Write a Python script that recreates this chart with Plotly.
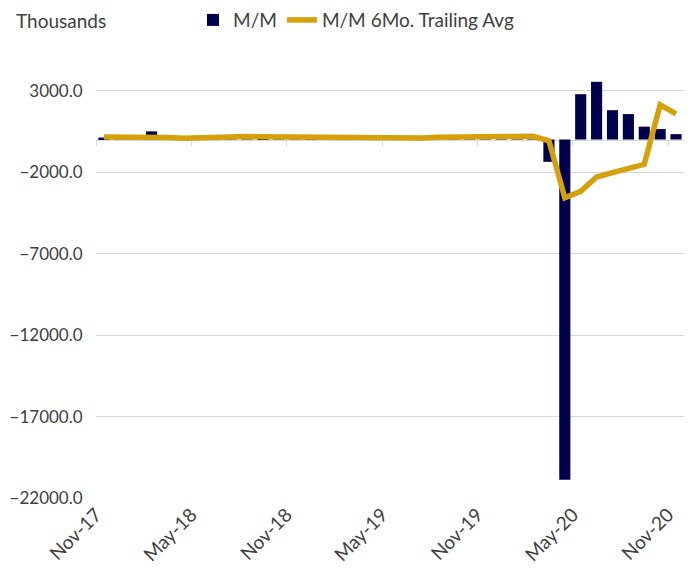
import pandas as pd
import plotly.graph_objects as go

# monthly change, thousands (Nov-17 .. Nov-20)
months = [d.strftime('%b-%y') for d in pd.date_range('2017-11-01', '2020-11-01', freq='MS')]

mm = [120, 150, 180, 500, 140, 60, 110, 200, 210, 150, 100, 160,
      150, 120, 180, 100, 170, 60, 150, 120, 90, 140, 160, 170,
      180, 160, 200, 230, -1370, -20870, 2780, 3540, 1800, 1560,
      790, 640, 330]

trail_avg = [150, 150, 160, 170, 130, 80, 120, 170, 180, 180, 170, 160,
             150, 150, 150, 150, 150, 150, 150, 140, 90, 140, 170, 180,
             180, 180, 190, 200, -80, -3580, -3180, -2300, -2030, -1800,
             -1520, 2120, 1570]

tick_labels = ['Nov-17', 'May-18', 'Nov-18', 'May-19', 'Nov-19', 'May-20', 'Nov-20']
y_ticks = [3000, -2000, -7000, -12000, -17000, -22000]

NAVY = '#00004D'
GOLD = '#D4A10C'
GRID = '#D9D9D9'
TEXT = '#404040'
FONT = 'Lato'

x = list(range(len(months)))
tickvals = [months.index(t) - 0.5 for t in tick_labels]
y_min, y_max = -22050, 5000

fig = go.Figure()
fig.add_trace(go.Bar(x=x, y=mm, name='M/M', marker_color=NAVY,
                     marker_line_width=0, width=0.7))
fig.add_trace(go.Scatter(x=x, y=trail_avg, name='M/M 6Mo. Trailing Avg',
                         mode='lines', line=dict(color=GOLD, width=5.5)))
# empty trace so the zero-crossing axis gets drawn
fig.add_trace(go.Scatter(x=[], y=[], xaxis='x2', showlegend=False))

# page body adds 8px offset, margins compensate
fig.update_layout(
    width=694, height=575,
    margin=dict(l=88, r=18, t=50, b=84, autoexpand=False),
    plot_bgcolor='white', paper_bgcolor='white',
    font=dict(family=FONT, size=18, color=TEXT),
    showlegend=True,
    legend=dict(orientation='h', x=0.165, xanchor='left', y=1.086, yanchor='middle',
                font=dict(size=19, color=TEXT), itemwidth=30, tracegroupgap=0),
    xaxis=dict(range=[-0.5, len(months) - 0.5], tickvals=tickvals, ticktext=tick_labels,
               tickangle=-45, showgrid=False, zeroline=False, showline=False,
               ticks='', tickfont=dict(size=19, color=TEXT), automargin=False),
    xaxis2=dict(overlaying='x', matches='x', anchor='free',
                position=(0 - y_min) / (y_max - y_min),
                range=[-0.5, len(months) - 0.5], tickvals=tickvals,
                showticklabels=False, showgrid=False, zeroline=False,
                showline=True, linecolor=GRID, linewidth=1,
                ticks='outside', ticklen=5, tickcolor=GRID, layer='below traces'),
    yaxis=dict(range=[y_min, y_max], tickvals=y_ticks, tickformat='.1f',
               gridcolor=GRID, gridwidth=1, zeroline=False, showline=False,
               ticks='outside', ticklen=9, tickcolor='rgba(0,0,0,0)',
               tickfont=dict(size=17, color=TEXT), automargin=False),
    annotations=[dict(text='Thousands', xref='paper', yref='paper',
                      x=-0.14, y=1.086, xanchor='left', yanchor='middle',
                      showarrow=False, font=dict(size=19, color=TEXT))],
)

fig.write_html('out.html')
